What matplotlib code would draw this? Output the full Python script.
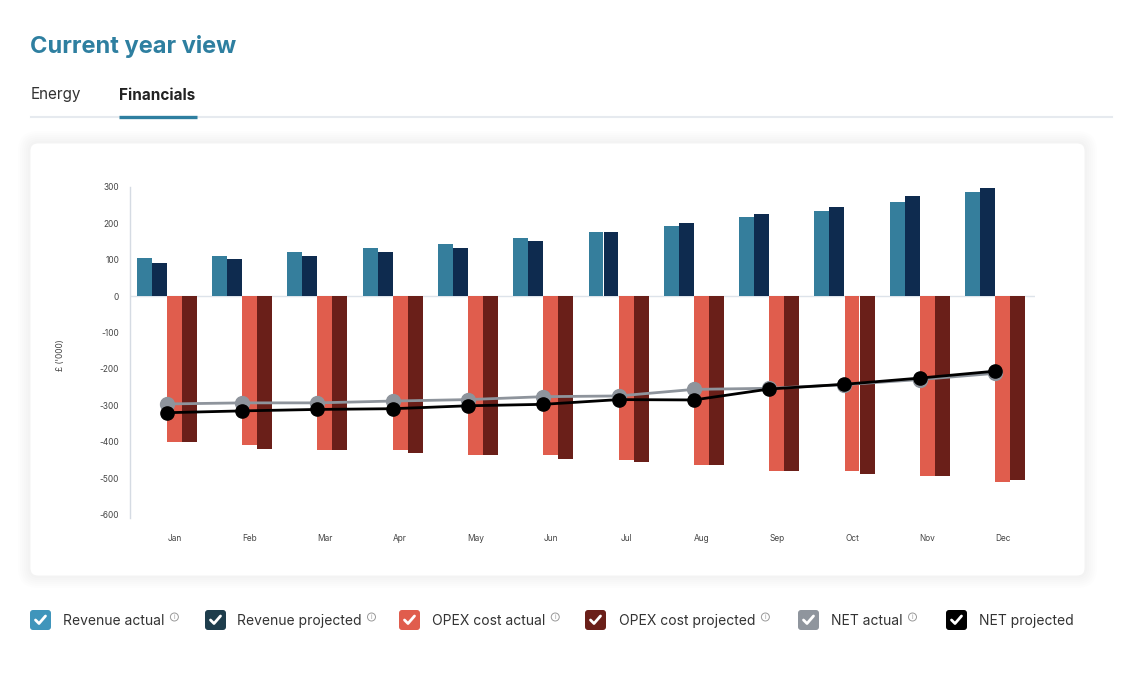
import matplotlib
matplotlib.use("Agg")
import matplotlib.pyplot as plt
import numpy as np
from matplotlib.patches import FancyBboxPatch, Circle
from matplotlib.lines import Line2D
from matplotlib.transforms import IdentityTransform

plt.rcParams['font.family'] = ['Inter', 'DejaVu Sans']

# data, in £'000
months = ["Jan", "Feb", "Mar", "Apr", "May", "Jun", "Jul", "Aug", "Sep", "Oct", "Nov", "Dec"]
revenue_actual = [104, 110, 121, 132, 143, 159, 176, 192, 217, 233, 258, 286]
revenue_projected = [91, 102, 110, 121, 132, 151, 176, 200, 225, 244, 275, 296]
opex_actual = [-400, -409, -423, -423, -436, -436, -450, -464, -479, -479, -493, -510]
opex_projected = [-400, -420, -423, -431, -436, -447, -456, -464, -479, -488, -493, -504]
net_actual = [-296, -293, -293, -288, -284, -276, -274, -256, -253, -243, -229, -212]
net_projected = [-320, -315, -311, -309, -301, -297, -284, -285, -255, -242, -225, -206]
yticks = [300, 200, 100, 0, -100, -200, -300, -400, -500, -600]

C_REV_A = "#357e9c"
C_REV_P = "#0e2b4f"
C_OPX_A = "#e05d4d"
C_OPX_P = "#6a1f19"
C_NET_A = "#8e949c"
C_NET_P = "#000000"
TEAL = "#2e7fa0"

W, H = 1130, 678
fig = plt.figure(figsize=(W / 100, H / 100), dpi=100)
fig.patch.set_facecolor("white")
PX = IdentityTransform()


def P(x, y):
    return x, H - y


# card with a soft, faint shadow
for i in range(6):
    pad = 12 - 2 * i
    sh = FancyBboxPatch(P(30 - pad, 576 + pad), 1055 + 2 * pad, 433 + 2 * pad,
                        boxstyle="round,pad=0,rounding_size=%d" % (8 + pad),
                        transform=PX, facecolor="#000000", alpha=0.006,
                        edgecolor="none", zorder=-20)
    fig.add_artist(sh)
card = FancyBboxPatch(P(30, 576), 1055, 433, boxstyle="round,pad=0,rounding_size=8",
                      transform=PX, facecolor="white", edgecolor="#f3f3f3",
                      linewidth=0.6, zorder=-10)
fig.add_artist(card)

# header
fig.text(*P(30, 47), "Current year view", transform=PX, fontsize=17,
         fontweight="bold", color=TEAL, va="center", ha="left")
fig.text(*P(31, 95), "Energy", transform=PX, fontsize=11, color="#333333",
         va="center", ha="left")
fig.text(*P(119, 95), "Financials", transform=PX, fontsize=11, fontweight="bold",
         color="#222222", va="center", ha="left")
fig.add_artist(Line2D([31, 1112], [H - 117, H - 117], transform=PX,
                      color="#e6eaef", linewidth=1.5))
fig.add_artist(Line2D([119, 197], [H - 117, H - 117], transform=PX,
                      color=TEAL, linewidth=2.4, solid_capstyle="butt"))

# chart
ax = fig.add_axes([130.3 / W, 1 - 517.7 / H, 904.7 / W, 331 / H])
ax.set_facecolor("none")
x = np.arange(len(months))
bw = 0.198
ax.bar(x - 0.40, revenue_actual, bw, color=C_REV_A, linewidth=0, zorder=2)
ax.bar(x - 0.20, revenue_projected, bw, color=C_REV_P, linewidth=0, zorder=2)
ax.bar(x + 0.0, opex_actual, bw, color=C_OPX_A, linewidth=0, zorder=2)
ax.bar(x + 0.20, opex_projected, bw, color=C_OPX_P, linewidth=0, zorder=2)
ax.axhline(0, color="#dde3ea", linewidth=1, zorder=1)
ax.plot(x - 0.10, net_actual, color=C_NET_A, linewidth=2, marker="o",
        markersize=10, zorder=4)
ax.plot(x - 0.10, net_projected, color=C_NET_P, linewidth=2, marker="o",
        markersize=9.5, zorder=5)

ax.set_xlim(-0.584, 11.43)
ax.set_ylim(-608, 300)
ax.set_yticks(yticks)
ax.set_yticklabels([str(v) for v in yticks])
ax.set_xticks(x)
ax.set_xticklabels(months)
ax.tick_params(axis="y", length=0, labelsize=6, pad=8, labelcolor="#444444")
ax.tick_params(axis="x", length=0, labelsize=6, pad=12, labelcolor="#444444")
for s in ["top", "right", "bottom"]:
    ax.spines[s].set_visible(False)
ax.spines["left"].set_color("#d5dbe3")
ax.spines["left"].set_linewidth(1)
ax.set_ylabel("£ ('000)", fontsize=6, color="#444444")
ax.yaxis.set_label_coords(-0.072, 0.49)

# legend with check boxes
legend_items = [
    ("Revenue actual", "#3f95bb", 30, 63, True),
    ("Revenue projected", "#1e3d4c", 205, 237, True),
    ("OPEX cost actual", "#e05d4d", 399, 432, True),
    ("OPEX cost projected", "#6a1f19", 585, 619, True),
    ("NET actual", "#8f959d", 798, 831, True),
    ("NET projected", "#000000", 946, 979, False),
]
renderer = fig.canvas.get_renderer()
yc = 620
for label, col, bx, tx, info in legend_items:
    box = FancyBboxPatch(P(bx, yc + 10), 21, 20, boxstyle="round,pad=0,rounding_size=3",
                         transform=PX, facecolor=col, edgecolor="none")
    fig.add_artist(box)
    cx = bx + 10.5
    fig.add_artist(Line2D([cx - 5, cx - 1.5, cx + 5], [H - yc, H - (yc + 3.5), H - (yc - 4)],
                          transform=PX, color="white", linewidth=2,
                          solid_capstyle="round", solid_joinstyle="round"))
    t = fig.text(*P(tx, yc + 1), label, transform=PX, fontsize=10, color="#333333",
                 va="center", ha="left")
    if info:
        ext = t.get_window_extent(renderer)
        ix = ext.x1 + 10
        fig.add_artist(Circle((ix, H - 617), 4, transform=PX, facecolor="none",
                              edgecolor="#999999", linewidth=0.7))
        fig.text(ix, H - 617, "i", transform=PX, fontsize=4.5, color="#999999",
                 ha="center", va="center")

fig.savefig("out.png", dpi=100)
